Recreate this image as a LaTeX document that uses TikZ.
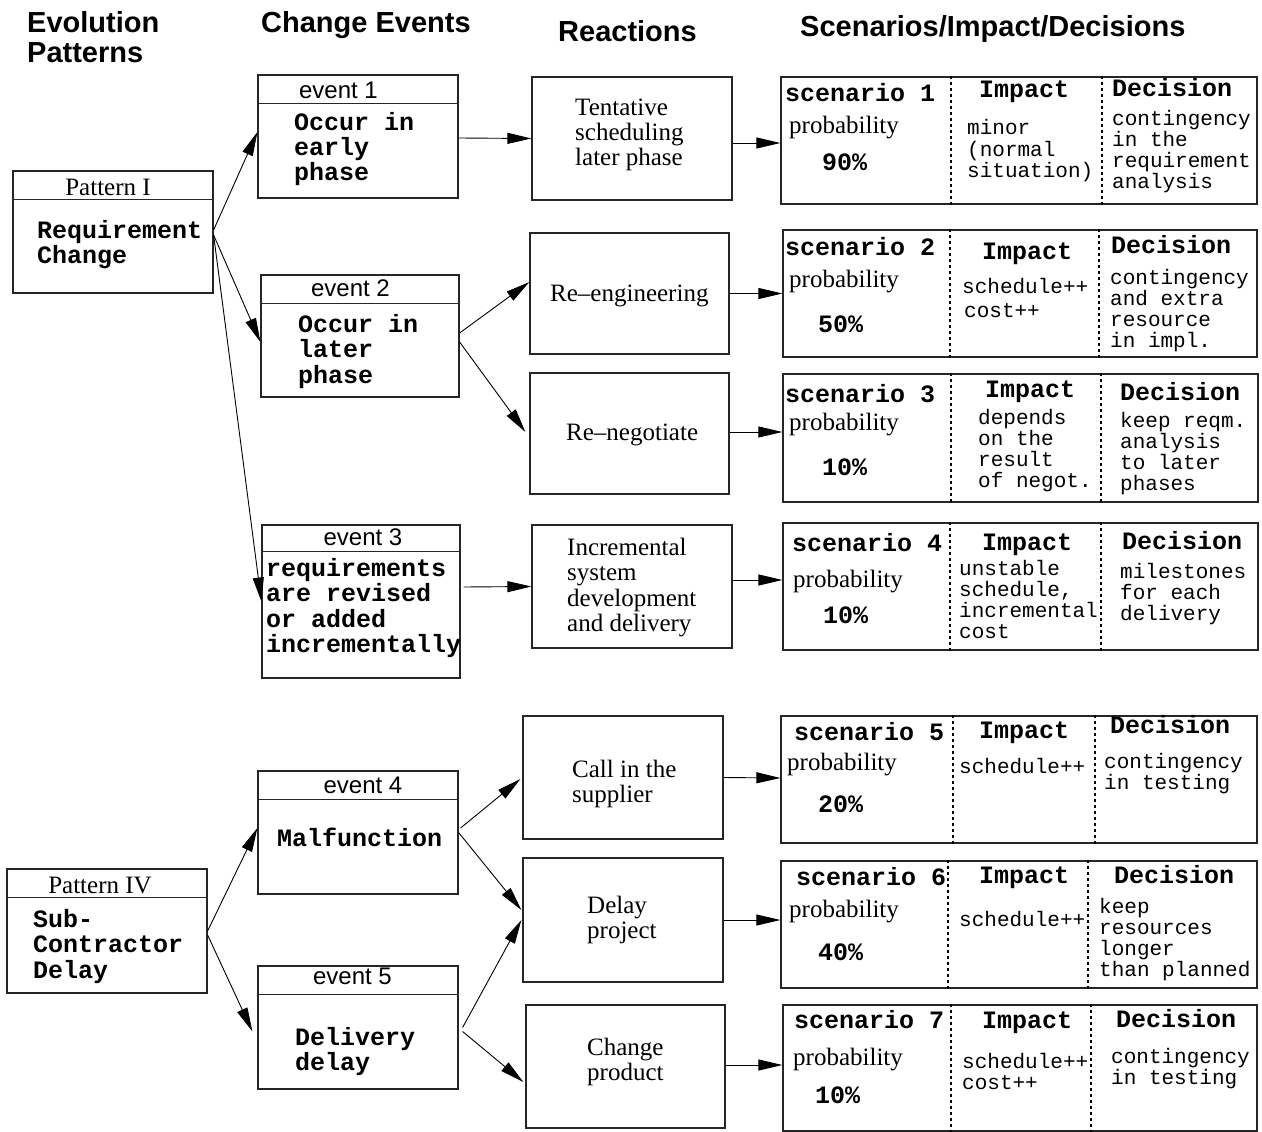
\documentclass[tikz,border=0pt]{standalone}
\usepackage{fontspec}
\setmainfont{Liberation Serif}
\setsansfont{Liberation Sans}
\setmonofont{Liberation Mono}
\usetikzlibrary{arrows.meta}
\newcommand\stacked[1]{\vtop{\let\\\cr\halign{##\hfil\cr#1\crcr}}}
\tikzset{
  box/.style={draw=black!85, line width=1.2pt, inner sep=0pt},
  hline/.style={draw=black!85, line width=1pt},
  divider/.style={line width=1.8pt, dash pattern=on 2.5pt off 3.5pt},
  arr/.style={-{Triangle[length=24pt,width=11pt]}, line width=0.9pt},
  txt/.style={inner sep=0pt, anchor=base west},
  headtext/.style={txt, font=\sffamily\bfseries\fontsize{29}{30}\selectfont},
  evhead/.style={inner sep=0pt, anchor=base, font=\sffamily\fontsize{24}{26}\selectfont},
  pathead/.style={inner sep=0pt, anchor=base, font=\rmfamily\fontsize{25}{26}\selectfont},
  evtext/.style={txt, font=\ttfamily\bfseries\fontsize{25}{25.5}\selectfont},
  reaction/.style={txt, font=\rmfamily\fontsize{25}{25.5}\selectfont},
  note/.style={txt, font=\ttfamily\fontsize{21}{21.2}\selectfont}
}

\begin{document}
\begin{tikzpicture}[x=1pt, y=-1pt]
\useasboundingbox (0,0) rectangle (1262,1132);

% column titles
\node[headtext] (TEvo) at (27,33) {\stacked{Evolution\\Patterns}};
\node[headtext] (TChg) at (261,33) {Change Events};
\node[headtext] (TRea) at (558,42) {Reactions};
\node[headtext] (TSce) at (800,37) {Scenarios/Impact/Decisions};

% patterns
\node[box, minimum width=200pt, minimum height=122pt] (PatI) at (113,232) {};
\node[pathead] (PatIh) at (108,195) {Pattern I};
\node[evtext] (PatIt) at (37,238) {\stacked{Requirement\\Change}};
\node[box, minimum width=200pt, minimum height=124pt] (PatIV) at (107,931) {};
\node[pathead] (PatIVh) at (100,893) {Pattern IV};
\node[evtext] (PatIVt) at (33,927) {\stacked{Sub-\\Contractor\\Delay}};

% change events
\node[box, minimum width=200pt, minimum height=123pt] (Ev1) at (358,136.5) {};
\node[evhead] (Ev1h) at (338.5,99) {event 1};
\node[evtext] (Ev1t) at (294,130) {\stacked{Occur in\\early\\phase}};
\node[box, minimum width=198pt, minimum height=122pt] (Ev2) at (360,336) {};
\node[evhead] (Ev2h) at (350.5,296) {event 2};
\node[evtext] (Ev2t) at (298,332) {\stacked{Occur in\\later\\phase}};
\node[box, minimum width=198pt, minimum height=153pt] (Ev3) at (361,601.5) {};
\node[evhead] (Ev3h) at (363,545) {event 3};
\node[evtext] (Ev3t) at (266,576) {\stacked{requirements\\are revised\\or added\\incrementally}};
\node[box, minimum width=200pt, minimum height=123pt] (Ev4) at (358,832.5) {};
\node[evhead] (Ev4h) at (363,793) {event 4};
\node[evtext] (Ev4t) at (277,846) {Malfunction};
\node[box, minimum width=200pt, minimum height=123pt] (Ev5) at (358,1027.5) {};
\node[evhead] (Ev5h) at (352.5,984) {event 5};
\node[evtext] (Ev5t) at (295,1045) {\stacked{Delivery\\delay}};

\foreach \b in {PatI,PatIV,Ev1,Ev2,Ev4,Ev5}
  \draw[hline] ([xshift=2pt,yshift=-29pt]\b.north west) -- ([xshift=-2pt,yshift=-29pt]\b.north east);
\draw[hline] ([xshift=2pt,yshift=-27pt]Ev3.north west) -- ([xshift=-2pt,yshift=-27pt]Ev3.north east);

% reactions
\node[box, minimum width=200pt, minimum height=123pt] (Re1) at (632,138.5) {};
\node[reaction] (Re1t) at (575,115) {\stacked{Tentative\\scheduling\\later phase}};
\node[box, minimum width=199pt, minimum height=121pt] (Re2) at (629.5,293.5) {};
\node[reaction] (Re2t) at (550,301) {Re–engineering};
\node[box, minimum width=199pt, minimum height=121pt] (Re3) at (629.5,433.5) {};
\node[reaction] (Re3t) at (566,440) {Re–negotiate};
\node[box, minimum width=200pt, minimum height=123pt] (Re4) at (632,586.5) {};
\node[reaction] (Re4t) at (567,555) {\stacked{Incremental\\system\\development\\and delivery}};
\node[box, minimum width=200pt, minimum height=123pt] (Re5) at (623,777.5) {};
\node[reaction] (Re5t) at (572,777) {\stacked{Call in the\\supplier}};
\node[box, minimum width=200pt, minimum height=124pt] (Re6) at (623,920) {};
\node[reaction] (Re6t) at (587,913) {\stacked{Delay\\project}};
\node[box, minimum width=199pt, minimum height=123pt] (Re7) at (625.5,1066.5) {};
\node[reaction] (Re7t) at (587,1055) {\stacked{Change\\product}};

% scenarios
\node[box, minimum width=476pt, minimum height=127pt] (Sc1) at (1019,140.5) {};
\node[evtext] (Sc1n) at (785,102) {scenario 1};
\node[reaction] (Sc1p) at (789,133) {probability};
\node[evtext] (Sc1v) at (822,170) {90\%};
\node[evtext] (Sc1i) at (979,98) {Impact};
\node[note] (Sc1it) at (967,135) {\stacked{minor\\(normal\\situation)}};
\node[evtext] (Sc1d) at (1112,96) {Decision};
\node[note] (Sc1dt) at (1112,125) {\stacked{contingency\\in the\\requirement\\analysis}};

\node[box, minimum width=474pt, minimum height=127pt] (Sc2) at (1020,293.5) {};
\node[evtext] (Sc2n) at (785,255) {scenario 2};
\node[reaction] (Sc2p) at (789,287) {probability};
\node[evtext] (Sc2v) at (818,332) {50\%};
\node[evtext] (Sc2i) at (982,259) {Impact};
\node[note] (Sc2it) at (962,293) {schedule++};
\node[note] (Sc2it2) at (964,317) {cost++};
\node[evtext] (Sc2d) at (1111,253) {Decision};
\node[note] (Sc2dt) at (1110,284) {\stacked{contingency\\and extra\\resource\\in impl.}};

\node[box, minimum width=475pt, minimum height=128pt] (Sc3) at (1020.5,438) {};
\node[evtext] (Sc3n) at (785,402) {scenario 3};
\node[reaction] (Sc3p) at (789,430) {probability};
\node[evtext] (Sc3v) at (822,475) {10\%};
\node[evtext] (Sc3i) at (985,397) {Impact};
\node[note] (Sc3it) at (978,424) {\stacked{depends\\on the\\result\\of negot.}};
\node[evtext] (Sc3d) at (1120,400) {Decision};
\node[note] (Sc3dt) at (1120,427) {\stacked{keep reqm.\\analysis\\to later\\phases}};

\node[box, minimum width=475pt, minimum height=127pt] (Sc4) at (1020.5,586.5) {};
\node[evtext] (Sc4n) at (792,551) {scenario 4};
\node[reaction] (Sc4p) at (793,587) {probability};
\node[evtext] (Sc4v) at (823,623) {10\%};
\node[evtext] (Sc4i) at (982,550) {Impact};
\node[note] (Sc4it) at (959,575) {\stacked{unstable\\schedule,\\incremental\\cost}};
\node[evtext] (Sc4d) at (1122,549) {Decision};
\node[note] (Sc4dt) at (1120,578) {\stacked{milestones\\for each\\delivery}};

\node[box, minimum width=476pt, minimum height=127pt] (Sc5) at (1019,779.5) {};
\node[evtext] (Sc5n) at (794,740) {scenario 5};
\node[reaction] (Sc5p) at (787,770) {probability};
\node[evtext] (Sc5v) at (818,812) {20\%};
\node[evtext] (Sc5i) at (979,738) {Impact};
\node[note] (Sc5it) at (959,773) {schedule++};
\node[evtext] (Sc5d) at (1110,733) {Decision};
\node[note] (Sc5dt) at (1104,768) {\stacked{contingency\\in testing}};

\node[box, minimum width=476pt, minimum height=127pt] (Sc6) at (1019,924.5) {};
\node[evtext] (Sc6n) at (796,885) {scenario 6};
\node[reaction] (Sc6p) at (789,917) {probability};
\node[evtext] (Sc6v) at (818,960) {40\%};
\node[evtext] (Sc6i) at (979,883) {Impact};
\node[note] (Sc6it) at (959,926) {schedule++};
\node[evtext] (Sc6d) at (1114,883) {Decision};
\node[note] (Sc6dt) at (1099,913) {\stacked{keep\\resources\\longer\\than planned}};

\node[box, minimum width=474pt, minimum height=126pt] (Sc7) at (1020,1068) {};
\node[evtext] (Sc7n) at (794,1028) {scenario 7};
\node[reaction] (Sc7p) at (793,1065) {probability};
\node[evtext] (Sc7v) at (815,1103) {10\%};
\node[evtext] (Sc7i) at (982,1028) {Impact};
\node[note] (Sc7it) at (962,1068) {\stacked{schedule++\\cost++}};
\node[evtext] (Sc7d) at (1116,1027) {Decision};
\node[note] (Sc7dt) at (1111,1063) {\stacked{contingency\\in testing}};

\foreach \s/\a/\b in {Sc1/-68/83, Sc2/-70/79, Sc3/-69.5/80.5, Sc4/-70.5/80.5,
                      Sc5/-66/76, Sc6/-71/69, Sc7/-69/71}
  \draw[divider] ([xshift=\a pt]\s.north) -- ([xshift=\a pt]\s.south)
                 ([xshift=\b pt]\s.north) -- ([xshift=\b pt]\s.south);

% connectors
\path ([yshift=2pt]PatI.east)    edge[arr] ([yshift=4.5pt]Ev1.west)
      ([yshift=-3pt]PatI.east)   edge[arr] ([yshift=-6pt]Ev2.west)
                                 edge[arr] (Ev3.west)
      ([yshift=-1.5pt]Ev1.east)  edge[arr] (Re1.west)
      ([yshift=3pt]Ev2.east)     edge[arr] ([yshift=11.5pt]Re2.west)
      ([yshift=-6pt]Ev2.east)    edge[arr] ([xshift=-4pt,yshift=1.5pt]Re3.west)
      ([xshift=3pt,yshift=14.5pt]Ev3.east) edge[arr] (Re4.west)
      ([yshift=-4.5pt]Re1.east)  edge[arr] ([yshift=-2.5pt]Sc1.west)
      (Re2.east)                 edge[arr] (Sc2.west)
      ([yshift=1.5pt]Re3.east)   edge[arr] ([yshift=6pt]Sc3.west)
      ([yshift=6.5pt]Re4.east)   edge[arr] ([yshift=6.5pt]Sc4.west);

\path (PatIV.east)               edge[arr] ([yshift=4.5pt]Ev4.west)
      ([yshift=-4pt]PatIV.east)  edge[arr] ([xshift=-5pt,yshift=-4pt]Ev5.west)
      ([xshift=2pt,yshift=4.5pt]Ev4.east) edge[arr] ([xshift=-2pt,yshift=-1.5pt]Re5.west)
      (Ev4.east)                 edge[arr] ([xshift=-1pt,yshift=10pt]Re6.west)
      ([xshift=4pt]Ev5.east)     edge[arr] ([xshift=-1pt]Re6.west)
      ([xshift=4pt,yshift=-4pt]Ev5.east) edge[arr] ([xshift=-2pt,yshift=-15.5pt]Re7.west)
      (Re5.east)                 edge[arr] ([yshift=1.5pt]Sc5.west)
      (Re6.east)                 edge[arr] ([yshift=4.5pt]Sc6.west)
      ([yshift=1.5pt]Re7.east)   edge[arr] ([yshift=3pt]Sc7.west);
\end{tikzpicture}
\end{document}
